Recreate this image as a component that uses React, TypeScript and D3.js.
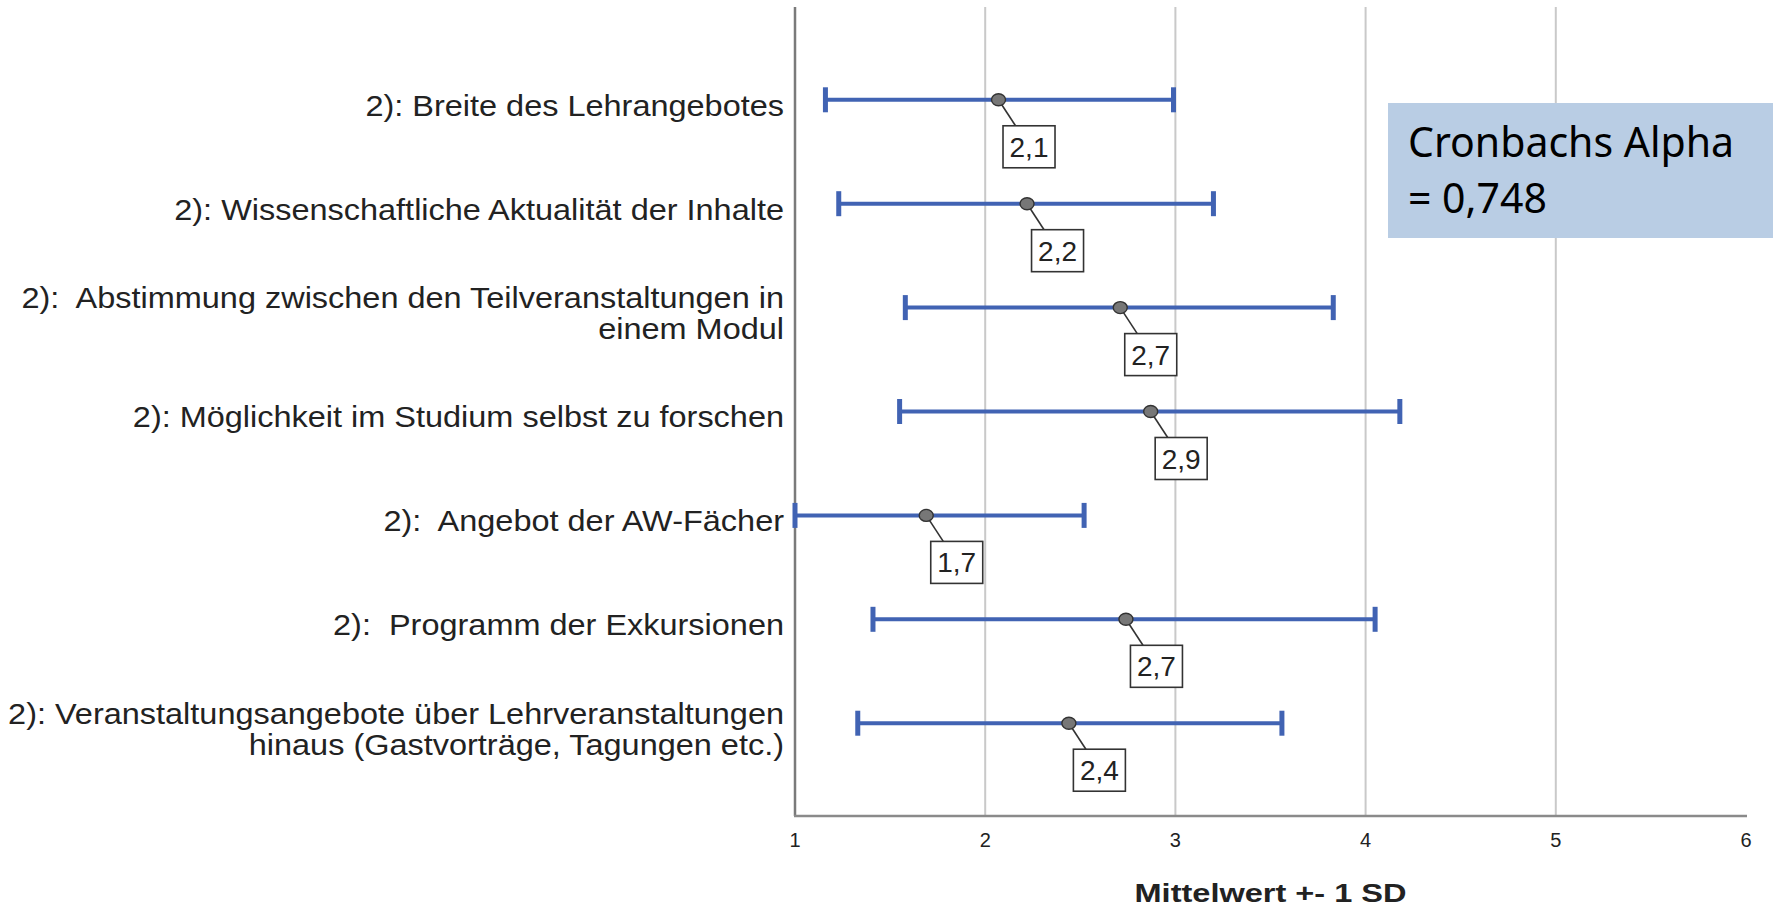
import React from "react";
import * as d3 from "d3";

const categories: string[] = [
  "2): Breite des Lehrangebotes",
  "2): Wissenschaftliche Aktualität der Inhalte",
  "2):  Abstimmung zwischen den Teilveranstaltungen in\neinem Modul",
  "2): Möglichkeit im Studium selbst zu forschen",
  "2):  Angebot der AW-Fächer",
  "2):  Programm der Exkursionen",
  "2): Veranstaltungsangebote über Lehrveranstaltungen\nhinaus (Gastvorträge, Tagungen etc.)",
];
const means: number[] = [2.07, 2.22, 2.71, 2.87, 1.69, 2.74, 2.44];
const lowers: number[] = [1.16, 1.23, 1.58, 1.55, 0.86, 1.41, 1.33];
const uppers: number[] = [2.99, 3.2, 3.83, 4.18, 2.52, 4.05, 3.56];
const xTicks: number[] = [1, 2, 3, 4, 5, 6];
const gridTicks: number[] = [2, 3, 4, 5];
const axisTitle = "Mittelwert +- 1 SD";
const noteLines: string[] = ["Cronbachs Alpha", "= 0,748"];

const W = 1773;
const H = 908;
const left = 795;
const right = 1746;
const top = 7;
const bottom = 816;

const BLUE = "#4163b3";
const TEXT = "#222";

export default function App() {
  const x = d3.scaleLinear().domain([1, 6]).range([left, right]).clamp(true);
  const y = d3
    .scalePoint<string>()
    .domain(categories)
    .range([top, bottom])
    .padding(0.893);
  const fmt = (v: number) => d3.format(".1f")(v).replace(".", ",");

  return (
    <svg
      width={W}
      height={H}
      style={{ position: "absolute", left: 0, top: 0, background: "#fff" }}
      fontFamily="'Liberation Sans', Arial, sans-serif"
    >
      {gridTicks.map((t) => (
        <line
          key={"g" + t}
          x1={x(t)}
          x2={x(t)}
          y1={top}
          y2={bottom}
          stroke="#c9c9c9"
          strokeWidth={2}
        />
      ))}
      <line x1={left} x2={left} y1={top} y2={bottom} stroke="#7a7a7a" strokeWidth={2.5} />
      <line x1={left - 1} x2={right + 1} y1={bottom} y2={bottom} stroke="#8a8a8a" strokeWidth={2.5} />

      {xTicks.map((t) => (
        <text
          key={"t" + t}
          x={x(t)}
          y={847}
          textAnchor="middle"
          fontSize={20}
          fill={TEXT}
        >
          {t}
        </text>
      ))}
      <text
        x={(left + right) / 2}
        y={902}
        textAnchor="middle"
        fontSize={26.5}
        fontWeight="bold"
        fill={TEXT}
        textLength={272}
        lengthAdjust="spacingAndGlyphs"
      >
        {axisTitle}
      </text>

      {categories.map((c, i) => {
        const lines = c.split("\n");
        const cy = y(c) as number;
        const L = 31;
        const base = cy + 16 - ((lines.length - 1) * L) / 2;
        return (
          <g key={"c" + i} transform={`translate(784,0) scale(1.12,1)`}>
            {lines.map((ln, j) => (
              <text
                key={j}
                x={0}
                y={base + j * L}
                textAnchor="end"
                fontSize={29}
                fill={TEXT}
                style={{ whiteSpace: "pre" }}
              >
                {ln}
              </text>
            ))}
          </g>
        );
      })}

      {categories.map((c, i) => {
        const cy = y(c) as number;
        const x0 = x(lowers[i]);
        const x1 = x(uppers[i]);
        const cx = x(means[i]);
        return (
          <g key={"e" + i}>
            <line x1={x0} x2={x1} y1={cy} y2={cy} stroke={BLUE} strokeWidth={4} />
            <line x1={x0} x2={x0} y1={cy - 12.5} y2={cy + 12.5} stroke={BLUE} strokeWidth={5} />
            <line x1={x1} x2={x1} y1={cy - 12.5} y2={cy + 12.5} stroke={BLUE} strokeWidth={5} />
            <line x1={cx} x2={cx + 17} y1={cy} y2={cy + 26} stroke="#333" strokeWidth={1.6} />
            <ellipse cx={cx} cy={cy} rx={7} ry={6} fill="#777" stroke="#333" strokeWidth={1.4} />
            <rect
              x={cx + 4.5}
              y={cy + 26}
              width={52}
              height={42}
              fill="#fff"
              stroke="#333"
              strokeWidth={1.6}
            />
            <text
              x={cx + 4.5 + 26}
              y={cy + 26 + 31}
              textAnchor="middle"
              fontSize={28}
              fill={TEXT}
            >
              {fmt(means[i])}
            </text>
          </g>
        );
      })}

      <rect x={1388} y={103} width={W - 1388} height={135} fill="#b9cde4" />
      {noteLines.map((ln, j) => (
        <text
          key={"n" + j}
          x={1408}
          y={157 + j * 56}
          fontSize={41}
          fill="#000"
          fontFamily="'Noto Sans', 'Open Sans', sans-serif"
        >
          {ln}
        </text>
      ))}
    </svg>
  );
}
